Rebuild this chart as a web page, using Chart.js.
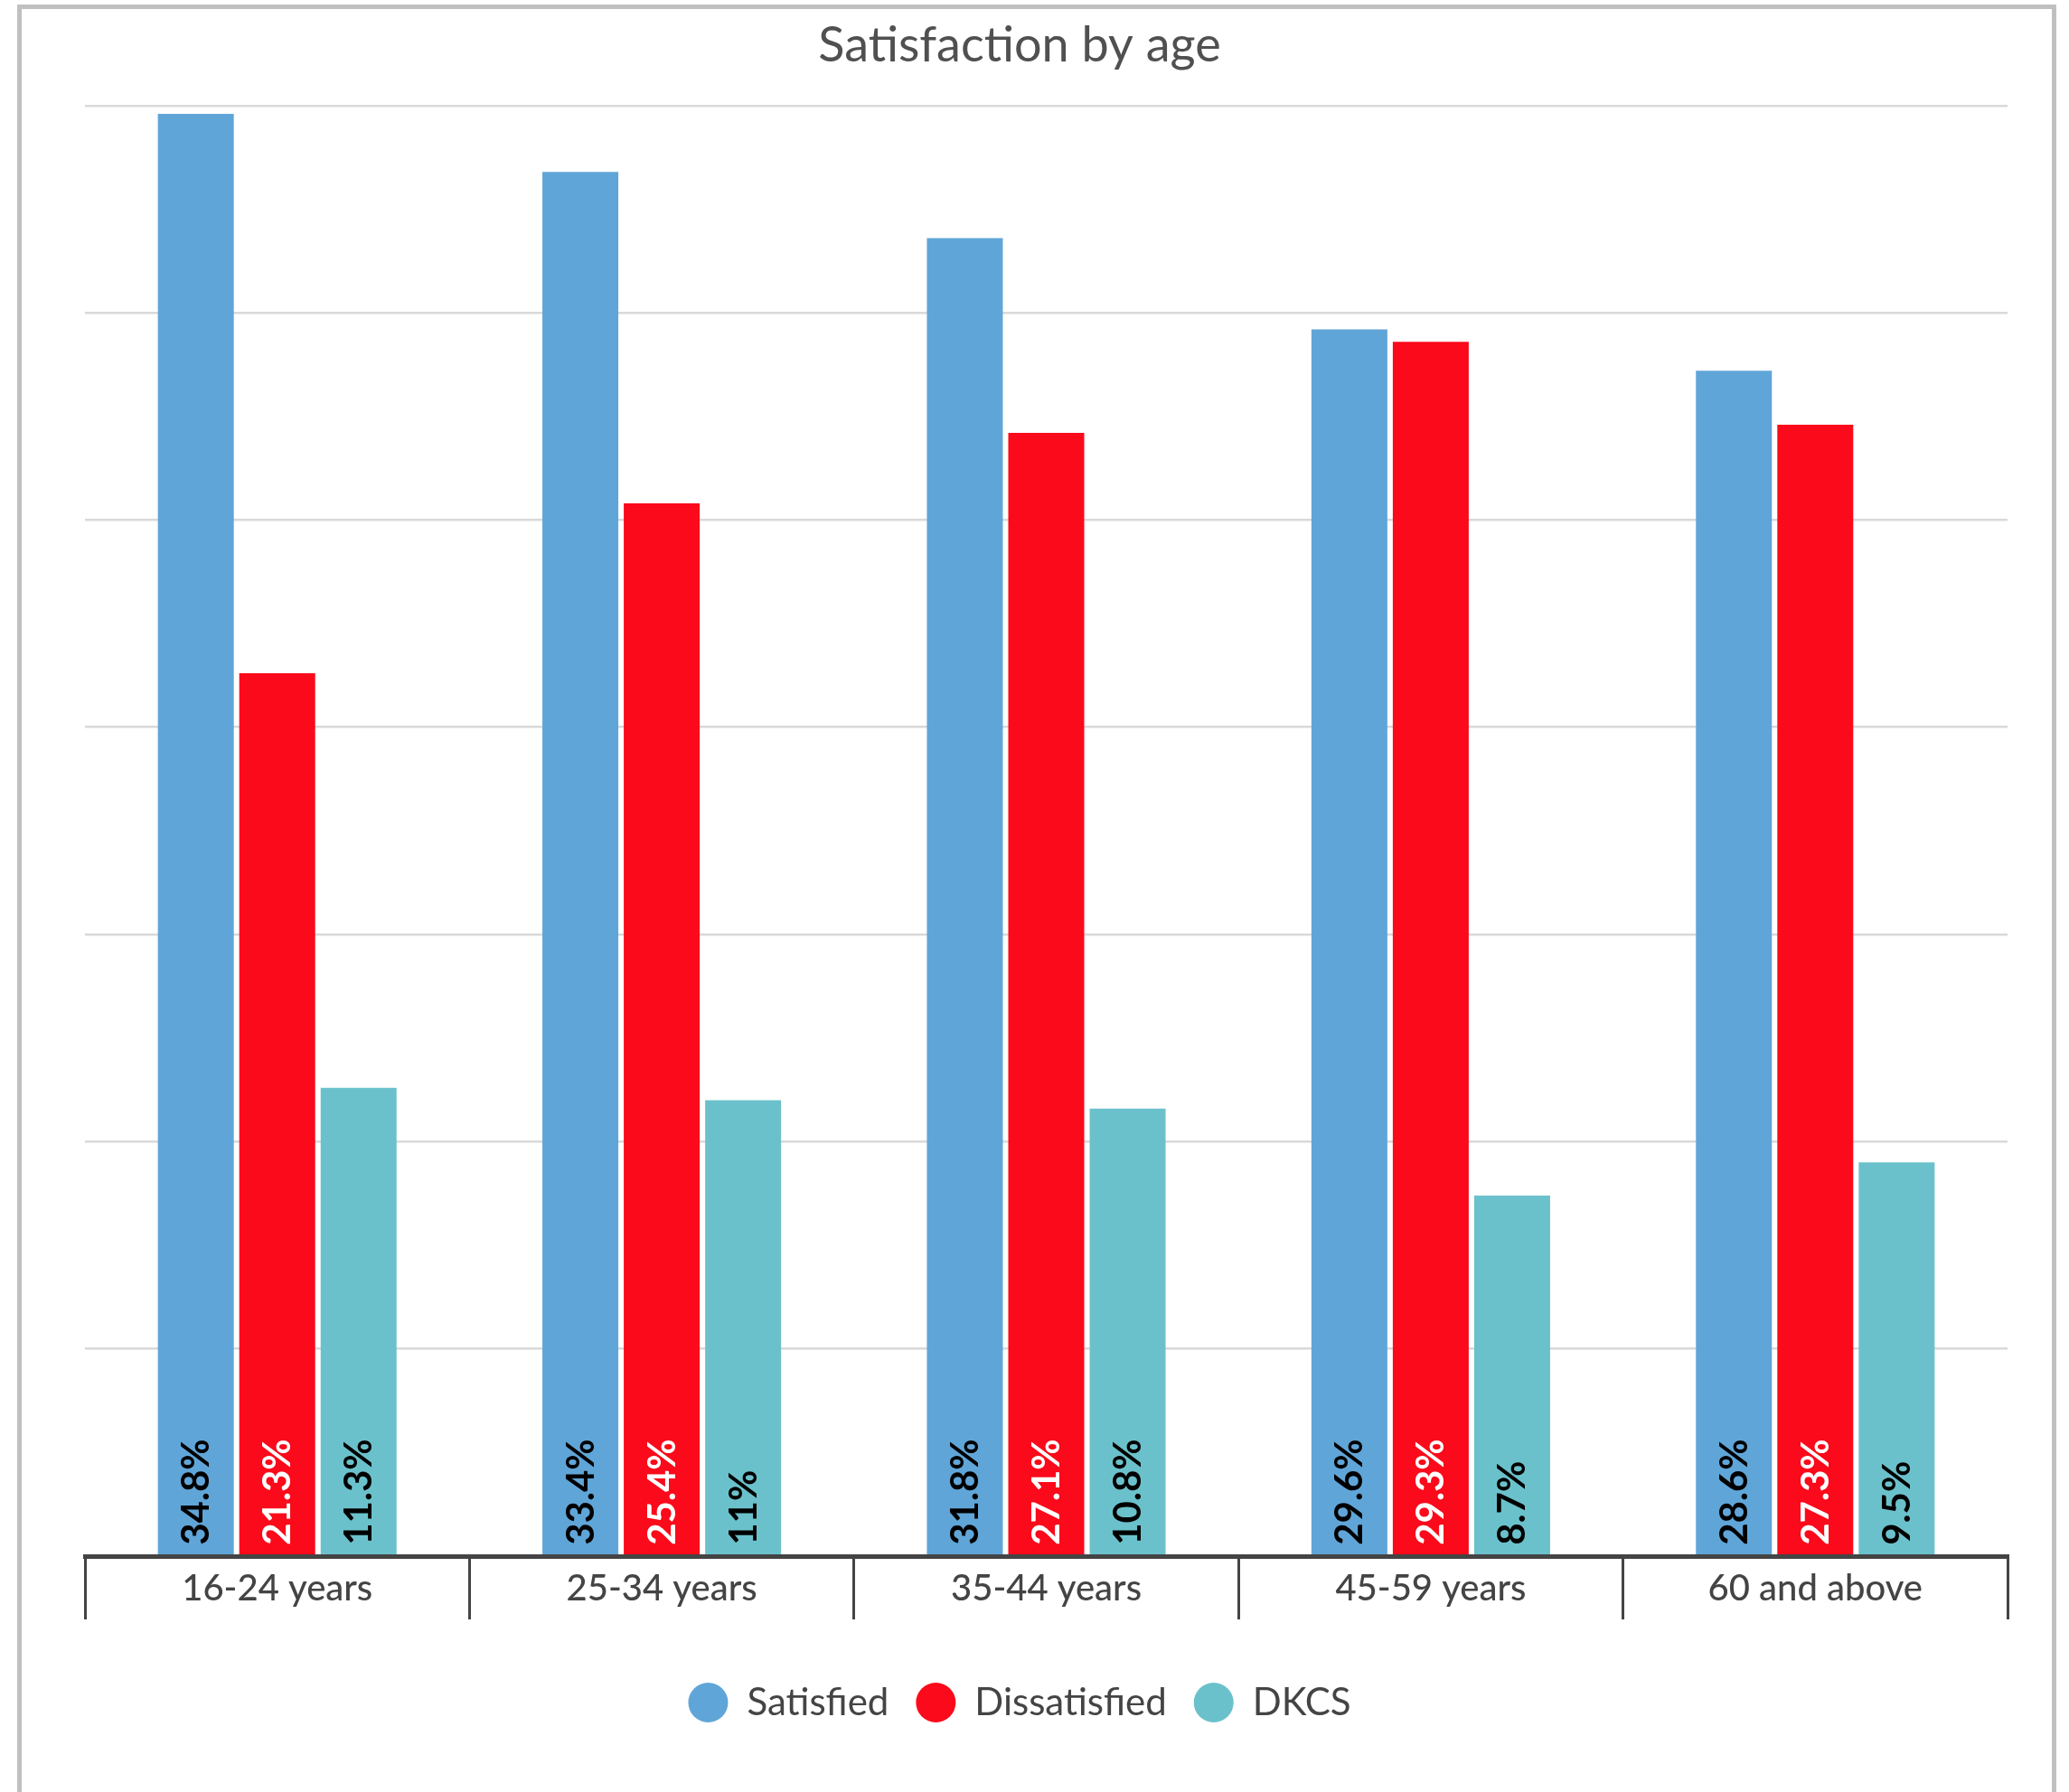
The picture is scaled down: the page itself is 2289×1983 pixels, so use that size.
<!DOCTYPE html>
<html>
<head>
<meta charset="utf-8">
<title>Satisfaction by age</title>
<script src="https://cdn.jsdelivr.net/npm/chart.js@4"></script>
<style>
    body { margin: 0; background: #ffffff; overflow: hidden; }
    #frame {
        position: absolute;
        left: 19px;
        top: 5px;
        width: 2246px;
        height: 2000px;
        border: 5px solid #c0c0c0;
        border-bottom: none;
        background: #ffffff;
    }
    #chart { position: absolute; left: 0; top: 0; }
</style>
</head>
<body>
<div id="frame">
    <canvas id="chart" width="2246" height="1960"></canvas>
</div>
<script>
// values
const categories = ['16-24 years', '25-34 years', '35-44 years', '45-59 years', '60 and above'];
const satisfied = [34.8, 33.4, 31.8, 29.6, 28.6];
const dissatisfied = [21.3, 25.4, 27.1, 29.3, 27.3];
const dkcs = [11.3, 11, 10.8, 8.7, 9.5];
const seriesNames = ['Satisfied', 'Dissatisfied', 'DKCS'];
const seriesColors = ['#60a5d8', '#fa0a1a', '#6bc1cb'];
const labelColors = ['#000000', '#ffffff', '#000000'];

const FONT = "Lato, 'Open Sans', sans-serif";

// vertical value labels at the foot of each bar
const barLabels = {
    id: 'barLabels',
    afterDatasetsDraw(chart) {
        let ctx = chart.ctx;
        chart.data.datasets.forEach(function (ds, d) {
            let meta = chart.getDatasetMeta(d);
            meta.data.forEach(function (bar, i) {
                ctx.save();
                ctx.translate(bar.x, bar.base - 11);
                ctx.rotate(-Math.PI / 2);
                ctx.font = "bold 42px " + FONT;
                ctx.fillStyle = labelColors[d];
                ctx.textAlign = 'left';
                ctx.textBaseline = 'middle';
                ctx.fillText(ds.data[i] + '%', 0, 1);
                ctx.restore();
            });
        });
    }
};

let datasets = [satisfied, dissatisfied, dkcs].map(function (vals, d) {
    return {
        label: seriesNames[d],
        data: vals,
        backgroundColor: seriesColors[d],
        borderWidth: 0,
        barPercentage: 0.933,
        categoryPercentage: 0.635
    };
});

new Chart(document.getElementById('chart'), {
    type: 'bar',
    data: { labels: categories, datasets: datasets },
    plugins: [barLabels],
    options: {
        responsive: false,
        animation: false,
        layout: { padding: { left: 11, right: 49, top: 0, bottom: 55 } },
        plugins: {
            title: {
                display: true,
                text: 'Satisfaction by age',
                color: '#505050',
                font: { family: FONT, size: 54, weight: 'normal' },
                padding: { top: 8, bottom: 34 }
            },
            legend: {
                position: 'bottom',
                labels: {
                    usePointStyle: true,
                    pointStyle: 'circle',
                    boxHeight: 31,
                    pointStyleWidth: 44,
                    padding: 30,
                    color: '#444444',
                    font: { family: FONT, size: 42 }
                }
            },
            tooltip: { enabled: false }
        },
        scales: {
            x: {
                offset: true,
                grid: {
                    offset: true,
                    drawOnChartArea: false,
                    drawTicks: true,
                    tickLength: 70,
                    color: '#444444',
                    tickColor: '#444444',
                    lineWidth: 3
                },
                border: { display: true, color: '#444444', width: 5, z: 1 },
                ticks: {
                    color: '#444444',
                    font: { family: FONT, size: 40, weight: 500 },
                    padding: -58,
                    maxRotation: 0
                },
                afterFit: function (scale) { scale.height = 111; }
            },
            y: {
                min: 0,
                max: 35,
                ticks: { display: false, stepSize: 5 },
                grid: { color: '#d9d9d9', lineWidth: 2.5, drawTicks: false },
                border: { display: false },
                afterFit: function (scale) { scale.width = 59; }
            }
        }
    }
});
</script>
</body>
</html>
